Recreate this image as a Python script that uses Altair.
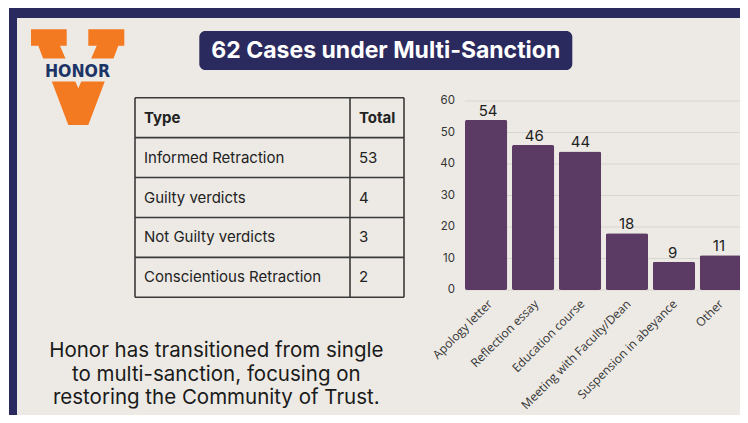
import altair as alt
import pandas as pd

# ---------------- data ----------------
categories = ["Apology letter", "Reflection essay", "Education course",
              "Meeting with Faculty/Dean", "Suspension in abeyance", "Other"]
counts = [54, 46, 44, 18, 9, 11]
y_ticks = [0, 10, 20, 30, 40, 50, 60]

table_header = ["Type", "Total"]
table_types = ["Informed Retraction", "Guilty verdicts", "Not Guilty verdicts",
               "Conscientious Retraction"]
table_totals = [53, 4, 3, 2]

title_text = "62 Cases under Multi-Sanction"
logo_text = "HONOR"
caption_lines = ["Honor has transitioned from single",
                 "to multi-sanction, focusing on",
                 "restoring the Community of Trust."]

# ---------------- style ----------------
NAVY = "#2b2a5e"
PANEL = "#edeae5"
ORANGE = "#f47a21"
PURPLE = "#5b3a64"
INK = "#222222"
GRID = "#d9d5cf"
FONT = "Inter, Noto Sans, sans-serif"
NARROW = "Liberation Sans Narrow, DejaVu Sans Condensed, sans-serif"

# whole page is 748x423 with an 8px margin -> chart canvas 732x407
W, H = 732, 407
one = alt.Data(values=[{}])

# ---------------- frame ----------------
frame = alt.Chart(one).mark_rect(color=NAVY).encode(
    x=alt.value(1), x2=alt.value(W), y=alt.value(0), y2=alt.value(H))
panel = alt.Chart(one).mark_rect(color=PANEL).encode(
    x=alt.value(9), x2=alt.value(W), y=alt.value(10), y2=alt.value(H))

# ---------------- title ----------------
title_box = alt.Chart(one).mark_rect(color=NAVY, cornerRadius=6).encode(
    x=alt.value(191.3), x2=alt.value(564.3), y=alt.value(23), y2=alt.value(62))
title = alt.Chart(one).mark_text(
    color="white", font=FONT, fontWeight="bold", fontSize=23,
    align="center", baseline="middle").encode(
    x=alt.value(377.8), y=alt.value(43), text=alt.value(title_text))

# ---------------- logo ----------------
V_PATH = ("M -0.972 -0.997 L -0.228 -0.997 L -0.228 -0.655 L -0.368 -0.655 "
          "L 0.014 0.232 L 0.397 -0.655 L 0.222 -0.655 L 0.222 -0.997 "
          "L 0.972 -0.997 L 0.972 -0.655 L 0.847 -0.655 L 0.222 0.997 "
          "L -0.195 0.997 L -0.820 -0.655 L -0.972 -0.655 Z")
logo_v = alt.Chart(one).mark_point(
    shape=V_PATH, filled=True, size=96 * 96, color=ORANGE, opacity=1,
    strokeWidth=0).encode(x=alt.value(69.65), y=alt.value(69.15))
logo_band = alt.Chart(one).mark_rect(color=PANEL).encode(
    x=alt.value(30), x2=alt.value(112), y=alt.value(50.5), y2=alt.value(73.5))
logo_txt = alt.Chart(one).mark_text(
    color="#1c3466", font=NARROW, fontWeight="bold", fontSize=17.5,
    align="center", baseline="alphabetic").encode(
    x=alt.value(69.5), y=alt.value(68.5), text=alt.value(logo_text))

# ---------------- table ----------------
ts = alt.Scale(domain=[0, 5], range=[89.7, 289.3], nice=False, zero=False)
edges = pd.DataFrame({"edge": list(range(len(table_types) + 2))})
hlines = alt.Chart(edges).mark_rule(color="#3a3a3a", strokeWidth=1.6).encode(
    x=alt.value(127), x2=alt.value(396),
    y=alt.Y("edge:Q", scale=ts, axis=None))
cols = pd.DataFrame({"xpos": [127, 342, 396]})
vlines = alt.Chart(cols).mark_rule(color="#3a3a3a", strokeWidth=1.6).encode(
    x=alt.X("xpos:Q", scale=None, axis=None),
    y=alt.value(89.7), y2=alt.value(289.3))

head_df = pd.DataFrame({"label": [table_header[0]], "total": [table_header[1]],
                        "pos": [0.5]})
body_df = pd.DataFrame({"label": table_types,
                        "total": [str(t) for t in table_totals],
                        "pos": [i + 1.5 for i in range(len(table_types))]})
YT = alt.Y("pos:Q", scale=ts, axis=None)
head_l = alt.Chart(head_df).mark_text(
    font=FONT, fontWeight="bold", fontSize=15, color=INK,
    align="left", baseline="middle").encode(x=alt.value(136), y=YT, text="label:N")
head_r = alt.Chart(head_df).mark_text(
    font=FONT, fontWeight="bold", fontSize=15, color=INK,
    align="left", baseline="middle").encode(x=alt.value(351), y=YT, text="total:N")
body_l = alt.Chart(body_df).mark_text(
    font=FONT, fontSize=15, color=INK,
    align="left", baseline="middle").encode(x=alt.value(136), y=YT, text="label:N")
body_r = alt.Chart(body_df).mark_text(
    font=FONT, fontSize=15, color=INK,
    align="left", baseline="middle").encode(x=alt.value(351), y=YT, text="total:N")

# ---------------- caption ----------------
caption = alt.Chart(one).mark_text(
    font=FONT, fontSize=20.5, lineHeight=23.5, color="#1a1a1a",
    align="center", baseline="alphabetic").encode(
    x=alt.value(208.3), y=alt.value(349), text=alt.value(caption_lines))

# ---------------- bar chart ----------------
bars_df = pd.DataFrame({"category": categories, "count": counts})
xs = alt.Scale(domain=categories, range=[457, 734], paddingInner=0.1, paddingOuter=0)
ys = alt.Scale(domain=[0, 60], range=[282, 93], nice=False, zero=True)
X = alt.X("category:N", scale=xs, axis=None, sort=categories)
Y = alt.Y("count:Q", scale=ys, axis=None)

tick_df = pd.DataFrame({"tick": y_ticks})
grid = alt.Chart(tick_df).mark_rule(color=GRID, strokeWidth=1).encode(
    x=alt.value(457), x2=alt.value(734),
    y=alt.Y("tick:Q", scale=ys, axis=None))
tick_lbl = alt.Chart(tick_df).mark_text(
    font=FONT, fontSize=11.5, color="#333333", align="right", baseline="middle").encode(
    x=alt.value(447), y=alt.Y("tick:Q", scale=ys, axis=None), text="tick:Q")

bars = alt.Chart(bars_df).mark_bar(color=PURPLE, cornerRadius=2).encode(x=X, y=Y)
val_lbl = alt.Chart(bars_df).mark_text(
    font=FONT, fontSize=15, color=INK, baseline="alphabetic", dy=-4).encode(
    x=X, y=Y, text="count:Q")
cat_lbl = alt.Chart(bars_df).mark_text(
    font="Open Sans, Noto Sans, sans-serif", fontSize=12, color="#333333",
    angle=315, align="right", baseline="middle", dx=3).encode(
    x=X, y=alt.value(296), text="category:N")

chart = alt.layer(
    frame, panel,
    title_box, title,
    logo_v, logo_band, logo_txt,
    hlines, vlines, head_l, head_r, body_l, body_r,
    caption,
    grid, tick_lbl, bars, val_lbl, cat_lbl,
).resolve_scale(
    x="independent", y="independent"
).properties(
    width=W, height=H, padding=0, background="white",
    autosize=alt.AutoSizeParams(type="none"),
).configure_view(stroke=None)

chart.save("out.html", embed_options={"renderer": "svg", "actions": False})
